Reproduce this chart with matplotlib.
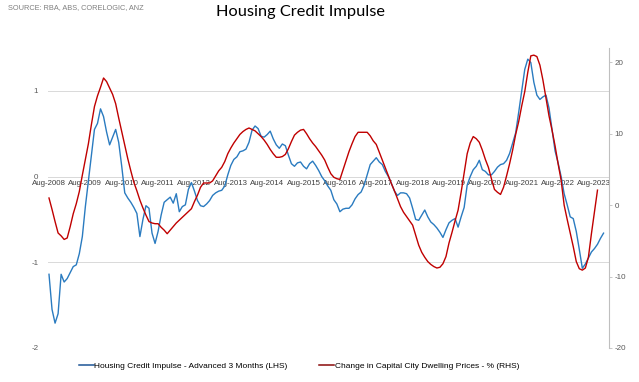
import numpy as np
import matplotlib.pyplot as plt
from matplotlib.lines import Line2D

# monthly series, first point = Aug-2008
credit_impulse = [
    -1.14, -1.55, -1.71, -1.60, -1.14, -1.23, -1.19, -1.12, -1.05, -1.03,
    -0.90, -0.70, -0.35, -0.05, 0.25, 0.55, 0.62, 0.79, 0.70, 0.52,
    0.37, 0.46, 0.55, 0.40, 0.12, -0.19, -0.25, -0.30, -0.36, -0.43,
    -0.70, -0.50, -0.34, -0.37, -0.66, -0.78, -0.64, -0.45, -0.30, -0.27,
    -0.24, -0.31, -0.20, -0.41, -0.35, -0.33, -0.15, -0.07, -0.17, -0.28,
    -0.34, -0.35, -0.32, -0.28, -0.22, -0.19, -0.17, -0.16, -0.11, 0.02,
    0.13, 0.20, 0.23, 0.29, 0.30, 0.32, 0.40, 0.54, 0.59, 0.56,
    0.47, 0.46, 0.49, 0.53, 0.44, 0.37, 0.33, 0.38, 0.36, 0.25,
    0.15, 0.12, 0.16, 0.17, 0.12, 0.09, 0.15, 0.18, 0.13, 0.07,
    0.00, -0.05, -0.11, -0.16, -0.27, -0.32, -0.41, -0.38, -0.37, -0.37,
    -0.33, -0.26, -0.21, -0.18, -0.10, 0.02, 0.14, 0.18, 0.22, 0.17,
    0.14, 0.06, 0.00, -0.08, -0.17, -0.22, -0.19, -0.19, -0.20, -0.25,
    -0.37, -0.50, -0.51, -0.45, -0.39, -0.47, -0.53, -0.56, -0.60, -0.65,
    -0.71, -0.62, -0.54, -0.51, -0.49, -0.59, -0.47, -0.36, -0.10, 0.00,
    0.08, 0.12, 0.19, 0.08, 0.06, 0.02, 0.02, 0.06, 0.11, 0.14,
    0.15, 0.19, 0.27, 0.39, 0.51, 0.75, 1.00, 1.25, 1.37, 1.33,
    1.10, 0.95, 0.90, 0.93, 0.95, 0.80, 0.55, 0.30, 0.16, 0.00,
    -0.20, -0.33, -0.47, -0.49, -0.64, -0.85, -1.07, -1.02, -0.95, -0.88,
    -0.84, -0.79, -0.72, -0.66,
]

dwelling_prices = [
    1.0, -0.6, -2.3, -3.9, -4.3, -4.8, -4.6, -3.0, -1.2, 0.2,
    1.9, 4.2, 6.4, 8.6, 11.3, 13.8, 15.3, 16.5, 17.8, 17.3,
    16.4, 15.5, 14.2, 12.2, 10.3, 8.4, 6.5, 4.8, 3.2, 2.0,
    0.7, -0.4, -1.4, -2.3, -2.5, -2.6, -2.6, -3.1, -3.5, -4.0,
    -3.5, -3.0, -2.5, -2.1, -1.7, -1.3, -0.9, -0.5, 0.5, 1.4,
    2.5, 3.1, 3.1, 3.1, 3.4, 4.1, 4.8, 5.3, 6.1, 7.2,
    8.0, 8.7, 9.3, 9.9, 10.3, 10.6, 10.8, 10.6, 10.4, 10.0,
    9.6, 9.1, 8.5, 7.8, 7.2, 6.7, 6.7, 6.8, 7.1, 7.9,
    8.9, 9.8, 10.2, 10.5, 10.6, 10.0, 9.3, 8.7, 8.2, 7.6,
    7.0, 6.3, 5.3, 4.4, 3.9, 3.7, 3.6, 4.9, 6.2, 7.5,
    8.6, 9.6, 10.2, 10.2, 10.2, 10.2, 9.7, 9.0, 8.5, 7.4,
    6.3, 5.2, 4.1, 3.0, 2.0, 0.9, -0.2, -1.0, -1.6, -2.2,
    -2.8, -4.2, -5.6, -6.6, -7.3, -7.9, -8.3, -8.6, -8.8, -8.7,
    -8.2, -7.2, -5.3, -3.8, -2.2, -0.7, 1.8, 4.5, 7.2, 8.7,
    9.6, 9.3, 8.8, 7.7, 6.4, 5.3, 3.7, 2.2, 1.8, 1.5,
    2.5, 4.1, 5.8, 7.7, 9.9, 11.7, 13.9, 15.9, 18.6, 20.9,
    21.0, 20.8, 19.6, 17.5, 15.0, 12.5, 10.5, 8.3, 5.8, 3.5,
    0.0, -2.0, -3.9, -5.8, -7.9, -8.9, -9.1, -8.8, -7.3, -4.0,
    -1.0, 2.1,
]

year_labels = ['Aug-2008', 'Aug-2009', 'Aug-2010', 'Aug-2011', 'Aug-2012',
               'Aug-2013', 'Aug-2014', 'Aug-2015', 'Aug-2016', 'Aug-2017',
               'Aug-2018', 'Aug-2019', 'Aug-2020', 'Aug-2021', 'Aug-2022',
               'Aug-2023']
label_months = [12 * i for i in range(len(year_labels))]

lhs_ticks = [-2, -1, 0, 1]
rhs_ticks = [-20, -10, 0, 10, 20]

blue = '#2a7bc0'
red = '#c00000'
grey = '#595959'
tick_font = 'Liberation Sans'

fig = plt.figure(figsize=(6.39, 3.82), dpi=100)
ax = fig.add_axes([48 / 639, 1 - 348 / 382, 561 / 639, 300 / 382])
ax2 = ax.twinx()

ax.plot(np.arange(len(credit_impulse)), credit_impulse, color=blue, lw=1.0, zorder=3)
ax2.plot(np.arange(len(dwelling_prices)), dwelling_prices, color=red, lw=1.0, zorder=3)

ax.set_xlim(-0.33, 184.8)
ax.set_ylim(-2, 1.5)
ax2.set_ylim(-20, 22)

# left axis
ax.set_yticks(lhs_ticks)
ax.set_yticklabels([str(t) for t in lhs_ticks])
ax.tick_params(axis='y', length=0, pad=7, labelsize=5.8, labelcolor=grey,
               labelfontfamily=tick_font)
ax.grid(axis='y', color='#d9d9d9', lw=0.7)
ax.set_axisbelow(True)

# category axis sits on zero
ax.set_xticks(label_months)
ax.set_xticklabels(year_labels)
ax.tick_params(axis='x', length=0, pad=2.5, labelsize=5.7, labelcolor='#404040',
               labelfontfamily=tick_font)
ax.spines['bottom'].set_position(('data', 0))
ax.spines['bottom'].set_color('#d9d9d9')
ax.spines['bottom'].set_linewidth(0.7)
for s in ['left', 'right', 'top']:
    ax.spines[s].set_visible(False)

# right axis
ax2.set_yticks(rhs_ticks)
ax2.set_yticklabels([str(t) for t in rhs_ticks])
ax2.tick_params(axis='y', length=2, width=0.6, color='#bfbfbf', pad=2,
                labelsize=5.8, labelcolor=grey, labelfontfamily=tick_font)
ax2.xaxis.set_visible(False)
for s in ['left', 'top', 'bottom']:
    ax2.spines[s].set_visible(False)
ax2.spines['right'].set_color('#bfbfbf')
ax2.spines['right'].set_linewidth(0.8)

fig.text(301 / 639, 1 - 12 / 382, 'Housing Credit Impulse', ha='center', va='center',
         fontsize=11.8, family='Lato', color='black')
fig.text(8 / 639, 1 - 8 / 382, 'SOURCE: RBA, ABS, CORELOGIC, ANZ', ha='left', va='center',
         fontsize=5.3, family=tick_font, color='#7f7f7f')

handles = [Line2D([], [], color='#1d5596', lw=1.1),
           Line2D([], [], color='#8a0a0a', lw=1.1)]
fig.legend(handles,
           ['Housing Credit Impulse - Advanced 3 Months (LHS)',
            'Change in Capital City Dwelling Prices - % (RHS)'],
           loc='center', bbox_to_anchor=(299 / 639, 1 - 366 / 382), ncol=2,
           frameon=False, handlelength=1.8, handletextpad=0.1, columnspacing=3.8,
           prop={'family': tick_font, 'size': 6.0})

fig.savefig('out.png', dpi=100)
